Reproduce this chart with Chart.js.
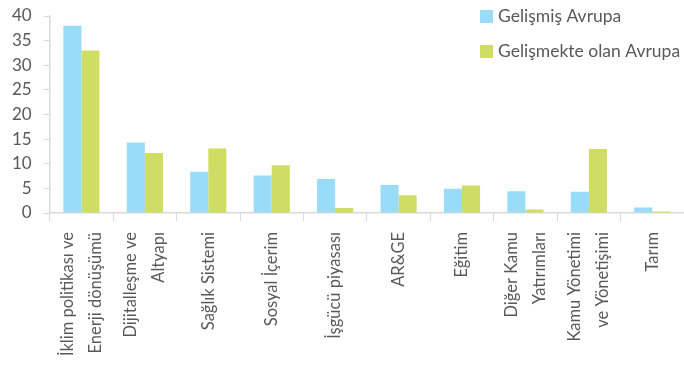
<!DOCTYPE html>
<html>
<head>
<meta charset="utf-8">
<script src="https://cdn.jsdelivr.net/npm/chart.js@4/dist/chart.umd.min.js"></script>
<style>
  html, body { margin: 0; padding: 0; background: #fff; }
  #wrap { width: 684px; height: 366px; position: relative; }
</style>
</head>
<body>
<div id="wrap"><canvas id="chart"></canvas></div>
<script>
// Kategoriler (çok satırlı etiketler)
const categories = [
    ['İklim politikası ve', 'Enerji dönüşümü'],
    ['Dijitalleşme ve', 'Altyapı'],
    'Sağlık Sistemi',
    'Sosyal İçerim',
    'İşgücü piyasası',
    'AR&GE',
    'Eğitim',
    ['Diğer Kamu', 'Yatırımları'],
    ['Kamu Yönetimi', 've Yönetişimi'],
    'Tarım'
];

// Seriler
const gelismisAvrupa = [38, 14.3, 8.4, 7.6, 6.9, 5.7, 4.9, 4.4, 4.3, 1.1];
const gelismekteAvrupa = [33, 12.2, 13.1, 9.7, 1.0, 3.6, 5.6, 0.7, 13.0, 0.3];

const seriesNames = ['Gelişmiş Avrupa', 'Gelişmekte olan Avrupa'];
const seriesColors = ['#99dcf8', '#cfdd63'];

const yTicksMax = 40;
const yTicksStep = 5;

const textColor = '#595959';
const axisColor = '#d9d9d9';
const fontFamily = 'Lato, "Noto Sans", sans-serif';

// Sağ üstte dikey lejant
const legendPlugin = {
    id: 'sideLegend',
    afterDraw(chart) {
        const ctx = chart.ctx;
        ctx.save();
        ctx.font = '17.5px ' + fontFamily;
        ctx.textBaseline = 'middle';
        chart.data.datasets.forEach((ds, i) => {
            const y = 16 + i * 35;
            ctx.fillStyle = ds.backgroundColor;
            ctx.fillRect(480, y - 6, 13, 13);
            ctx.fillStyle = textColor;
            ctx.fillText(ds.label, 498, y);
        });
        ctx.restore();
    }
};

// Dikey x etiketleri: çok satırlı etiketler tick'e göre ortalanır
const xLabelPlugin = {
    id: 'xLabels',
    afterDraw(chart) {
        const ctx = chart.ctx;
        const xs = chart.scales.x;
        const lh = 28;
        ctx.save();
        ctx.font = '16.5px ' + fontFamily;
        ctx.fillStyle = textColor;
        ctx.textAlign = 'right';
        ctx.textBaseline = 'middle';
        chart.data.labels.forEach((lbl, i) => {
            const lines = Array.isArray(lbl) ? lbl : [lbl];
            const x = xs.getPixelForTick(i);
            lines.forEach((line, j) => {
                const off = (j - (lines.length - 1) / 2) * lh;
                ctx.save();
                ctx.translate(x + off, xs.top + 19);
                ctx.rotate(-Math.PI / 2);
                ctx.fillText(line, 0, 0);
                ctx.restore();
            });
        });
        ctx.restore();
    }
};

const ctx = document.getElementById('chart').getContext('2d');
new Chart(ctx, {
    type: 'bar',
    data: {
        labels: categories,
        datasets: [
            { label: seriesNames[0], data: gelismisAvrupa, backgroundColor: seriesColors[0] },
            { label: seriesNames[1], data: gelismekteAvrupa, backgroundColor: seriesColors[1] }
        ]
    },
    options: {
        responsive: true,
        maintainAspectRatio: false,
        animation: false,
        layout: { padding: { top: 16, right: 0, left: 0, bottom: 0 } },
        datasets: {
            bar: { categoryPercentage: 0.57, barPercentage: 1.0 }
        },
        plugins: {
            legend: { display: false },
            tooltip: { enabled: false }
        },
        scales: {
            x: {
                grid: { offset: true, drawOnChartArea: false, tickLength: 8, color: axisColor },
                border: { color: axisColor, width: 1.5 },
                ticks: { display: false },
                afterFit(scale) {
                    scale.height = 153;
                    scale.paddingLeft = 0;
                    scale.paddingRight = 0;
                }
            },
            y: {
                min: 0,
                max: yTicksMax,
                grid: { drawOnChartArea: false, tickLength: 6, color: axisColor },
                border: { color: axisColor, width: 1.5 },
                ticks: {
                    stepSize: yTicksStep,
                    color: textColor,
                    font: { family: fontFamily, size: 17 },
                    padding: 12
                },
                afterFit(scale) {
                    scale.paddingTop = 0;
                    scale.paddingBottom = 0;
                }
            }
        }
    },
    plugins: [legendPlugin, xLabelPlugin]
});
</script>
</body>
</html>
